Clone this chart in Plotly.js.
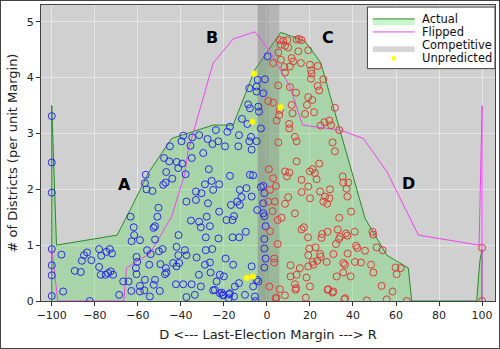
<!DOCTYPE html>
<html><head><meta charset="utf-8">
<script src="https://cdn.plot.ly/plotly-3.0.1.min.js"></script>
<style>
html,body{margin:0;padding:0;background:#fff;}
#wrap{position:relative;width:500px;height:349px;}
#frame{position:absolute;left:0;top:0;width:498px;height:347px;border:1px solid #444;pointer-events:none;}
</style>
</head><body>
<div id="wrap"><div id="chart" style="width:500px;height:349px;"></div><div id="frame"></div></div>
<script>
// Actual distribution outline
const actualX = [-100,-100,-97.8,-69.6,-62,-55,-44.3,-25,-15.7,-5.6,6.4,17.7,25,45.6,55.7,65.7,67.3,97.5,98.5,99,100,100];
const actualY = [0,3.5,1.0,1.18,1.75,2.3,2.91,3.15,3.15,4.14,4.81,4.65,4.27,1.48,0.82,0.59,0,0,0.5,0.73,0.93,0];
// Flipped distribution
const flippedX = [-100,-97.2,-66.5,-65.3,-54.4,-44.3,-38.1,-36.6,-35,-25,-15.7,-5.6,1.4,10.7,16.6,34,44.8,55.7,70.4,98.6,100,100];
const flippedY = [0.95,0,0,0.59,0.85,1.51,2.29,2.7,2.91,4.26,4.69,4.82,4.47,3.84,3.15,3.06,2.91,2.32,1.18,1.0,3.5,0];
// Competitive band
const competitive = [-4.3, 5.7];
const competitiveInner = [-4.3, 0.8];
// Districts (D side, blue)
const demX = [-100,-100,-100,-100,-100,-100,-100,-95.5,-89.3,-94.7,
-86.5,-86,-85,-83.6,-81.6,-78,-78,-77,-77.2,-75,-73.8,-72.6,-73,-72,-71.5,-74.6,-68.7,-66.8,-64.3,-63.4,-61.9,-61.7,-62.9,-59,-60.6,-60.3,-60.9,-60.6,-59,-56.7,-54.4,-55.7,-54,-54.7,-56.7,-56,-53.2,-56.3,-50.4,-50.9,-52,-52.7,-52,-50.2,-48.5,-49.5,-47,-46.7,-47.4,-52,-52.6,-47.8,-45.4,-41.9,-41.2,-39.4,-46.8,-44,-47.1,-48.2,-42,-41.1,-41.2,-40.8,-43.6,-42,-42.3,-38.9,-37.4,-33.5,-35,-30.7,-38.1,-37.4,-32.7,-35.3,-37.4,-37.8,-34.9,-33,-33,-29.6,-27,-28.8,-30.4,-25.7,-22.2,-25,-27.4,-31.5,-28,-30.7,-26.5,-28.4,-28.4,-25.4,-22.5,-26.5,-26.2,-31.6,-28.8,-21.9,-20,-23.4,-24.2,-21.9,-20.6,-17.5,-19.2,-15.7,-22.2,-18.8,-16,-15.3,-16,-12.9,-9.8,-13.8,-12.6,-16.7,-17.2,-12.6,-11.8,-9.5,-13,-14.9,-10.2,-15.3,
-39.7,-35.5,-45.1,-25.3,-22.6,-19.5,-13.3,-8.2,-38.9,-34.7,-31.5,-27.6,-23.7,-18.4,-17.2,-13,-11.6,-9.1,-8.7,-8.2,
0.3,-4.3,-0.9,-4.8,-4.8,-1.7,-7.9,-4,-3.7,-7.4,-4.8,-2.8,
-7.1,-7.9,-6.4,-1.7,-2.8,-1.2,-7.1,-1.7,-4.5,-1.7,-1.2,-0.6,-1.2,-1.2,-0.6,-1.2,-4.8,-4,-6.4,-5.6,-7.1,
-82.3,-63,-49.8,-25,-21,-20.2,-17.7,-17.2,-5.4,-59,-57];
const demY = [3.31,2.48,1.94,0.93,0.64,0.46,0.09,0.83,0.54,0.17,
0.52,0.72,0.82,0.87,0.73,0.93,0.61,0.81,0.47,0.47,0.5,0.53,0.93,0.85,0.47,0.88,0.11,0.35,0.35,1.51,1.32,1.18,1.07,1.09,0.79,0.70,0.59,0.48,0.27,0.38,0.08,0.91,0.84,0.65,2.11,2.0,1.97,2.26,1.67,1.51,1.34,1.31,1.1,0.89,0.93,0.66,0.59,0.51,0.48,0.38,0.29,2.56,2.5,2.49,2.38,2.46,2.31,2.19,2.12,2.08,0.97,1.18,0.82,0.68,0.68,0.62,0.3,0.3,0.07,0.11,0.3,0.26,0.91,0.82,0.78,1.44,1.78,2.27,2.56,1.96,1.81,2.65,2.36,2.09,1.93,2.15,2.09,1.99,1.75,1.42,1.51,1.32,1.34,1.14,0.91,0.93,1.12,0.69,0.51,0.47,0.65,0.47,0.44,0.35,0.2,0.14,0.11,0.12,0.76,0.65,1.6,1.45,1.45,1.52,1.14,1.14,1.24,1.78,1.72,1.72,2.24,1.99,1.86,2.02,0.32,0.26,0.11,0.08,
2.86,2.78,2.77,2.81,2.86,2.77,2.77,2.86,2.96,2.93,2.97,2.9,3.06,3.03,3.12,2.97,3.26,3.17,3.52,3.81,
4.38,3.96,3.97,3.84,3.75,3.72,3.45,3.48,3.39,2.94,2.86,3.09,
2.71,2.26,2.25,2.06,2.04,1.93,1.87,1.75,1.63,1.57,1.52,1.34,1.11,0.94,0.76,0.6,0.38,0.35,0.26,0.08,0.62,
0,0.18,0.18,0.19,0.15,0.1,0.05,0.14,0,0.17,0.19];
// Districts (R side, red)
const repX = [6,7.6,9.5,13.8,14.9,16.1,6.4,8.4,9.9,19.2,14.6,11.5,12.2,5.3,6.5,2.9,8.1,10.7,15.8,20,23.6,20.5,20.8,8.4,20.5,26.2,5.3,10.7,13.5,23.6,24.3,19.2,21.1,0.6,2.9,11.5,18.6,17.7,21.9,31.6,6,11.9,5.7,4.5,10.3,10.4,25,26.7,29,29.8,33.6,13,13.8,5.3,30.5,
31.6,0.9,2.9,4.2,1.4,0.6,3.7,2.6,5,6.8,1.4,5,3.4,3.4,1.1,6,4.5,8.4,10.4,9.3,13.8,20,21.2,22.3,24.3,16.1,19.2,16.1,23.1,24.7,8.4,9.9,27,29,29.3,35.2,35.5,37.8,37.4,37,20,26.2,28,13,39.1,33.6,16.1,17.2,19.1,25.4,25.7,28.2,32.9,34,36.7,40.8,33.5,32.1,37.4,41.4,42,45.6,51,53.8,49.1,49.4,19.7,22.6,19.2,24.7,25,27.8,30.9,37.5,21.2,21.6,11,15.3,19.2,23.4,35.5,36.3,40.9,43.7,48.4,49.5,35.5,38.9,32.4,59.8,62.2,60.3,11,13.8,18.4,13,13.5,20,30.9,53.3,58.4,18.1,28.5,36.3,
4,8.4,13.3,28.2,30.5,36,46.4,55.7,65,100,100];
const repY = [4.67,4.66,4.67,4.68,4.69,4.67,4.59,4.57,4.54,4.49,4.47,4.35,4.29,4.45,4.32,4.26,4.19,4.2,4.26,4.23,4.21,4.13,4.07,4.09,3.98,3.97,3.86,3.83,3.73,3.85,3.77,3.65,3.6,3.58,3.55,3.51,3.51,3.35,3.38,3.46,3.42,3.36,3.33,3.23,3.17,3.09,3.14,3.2,3.23,3.15,3.06,2.94,2.86,2.84,2.84,
2.68,2.36,2.2,2.06,1.99,1.78,1.78,1.61,1.45,1.49,1.25,1.02,0.76,0.69,0.26,0.21,0.06,2.32,2.3,2.23,2.5,2.32,2.36,2.29,2.46,2.17,2.05,1.95,2.18,1.96,1.74,1.86,1.87,1.84,2.0,2.23,2.12,2.12,1.87,2.01,1.84,1.78,1.74,1.57,1.6,1.49,1.28,1.32,1.14,1.13,1.2,1.24,1.28,1.15,1.21,1.24,1.11,1.02,1.17,0.99,0.95,0.9,0.96,0.91,1.24,1.19,0.94,0.96,0.82,0.84,0.79,0.7,0.84,0.85,0.7,0.65,0.64,0.59,0.62,0.72,0.68,0.65,0.7,0.69,0.65,0.51,0.51,0.44,0.44,0.6,0.59,0.48,0.44,0.47,0.42,0.3,0.23,0.26,0.17,0.27,0.17,0.06,0.21,0.05,
0.05,0.1,0.2,0.2,0.15,0.03,0.01,0.03,0,0,0.95];
// Unpredicted districts
const unpX = [-6,-6.7,6.4,-9.3,-6.5];
const unpY = [4.07,3.21,3.47,0.41,0.44];
// Region labels
const labelText = ['A','B','C','D'];
const labelX = [-66,-25.6,28.4,65.6];
const labelY = [2.08,4.71,4.71,2.1];
// Legend labels
const legendNames = ['Actual','Flipped','Competitive','Unpredicted'];

const FONT = 'DejaVu Sans, sans-serif';
const GREEN_FILL = 'rgba(80,220,80,0.3)';
const GRAY_FILL = 'rgba(120,120,120,0.30)';
const traces = [
  {x: actualX, y: actualY, type:'scatter', mode:'lines', fill:'toself', name:legendNames[0],
   line:{color:'#2a8a2a', width:1}, fillcolor:GREEN_FILL},
  {x: [competitive[0],competitive[1],competitive[1],competitive[0],competitive[0]], y:[-1,-1,10,10,-1],
   type:'scatter', mode:'lines', fill:'toself', name:legendNames[2], line:{width:0, color:'rgba(0,0,0,0)'},
   fillcolor:GRAY_FILL},
  {x: [competitiveInner[0],competitiveInner[1],competitiveInner[1],competitiveInner[0],competitiveInner[0]], y:[-1,-1,10,10,-1],
   type:'scatter', mode:'lines', fill:'toself', line:{width:0, color:'rgba(0,0,0,0)'},
   fillcolor:'rgba(120,120,120,0.16)'},
  {x: flippedX, y: flippedY, type:'scatter', mode:'lines', name:legendNames[1],
   line:{color:'#ee44ee', width:1}},
  {x: demX, y: demY, type:'scatter', mode:'markers',
   marker:{symbol:'circle-open', size:7, color:'#2a2aee', line:{width:1}}},
  {x: repX, y: repY, type:'scatter', mode:'markers',
   marker:{symbol:'circle-open', size:7, color:'#e03a3a', line:{width:1}}},
  {x: unpX, y: unpY, type:'scatter', mode:'markers', name:legendNames[3],
   marker:{symbol:'circle', size:6, color:'#ffff00', line:{width:0}}}
];
const annotations = labelText.map((t,i)=>({x:labelX[i], y:labelY[i], text:'<b>'+t+'</b>', showarrow:false,
  font:{family:FONT, size:16, color:'#000'}}));
// custom legend (paper coordinates)
const legTextY = [0.954, 0.909, 0.865, 0.821];
legendNames.forEach((n,i)=>annotations.push({xref:'paper', yref:'paper', x:0.835, y:legTextY[i], xanchor:'left', yanchor:'middle',
  text:n, showarrow:false, font:{family:FONT, size:11.5, color:'#111'}}));
const shapes = [
  {type:'rect', xref:'paper', yref:'paper', x0:0.719, x1:1.0, y0:0.785, y1:0.993, fillcolor:'#fff', line:{color:'#444', width:1}, layer:'above'},
  {type:'rect', xref:'paper', yref:'paper', x0:0.731, x1:0.823, y0:0.932, y1:0.953, fillcolor:GREEN_FILL, line:{width:0}, layer:'above'},
  {type:'line', xref:'paper', yref:'paper', x0:0.731, x1:0.823, y0:0.953, y1:0.953, line:{color:'#2a8a2a', width:1}, layer:'above'},
  {type:'line', xref:'paper', yref:'paper', x0:0.731, x1:0.823, y0:0.909, y1:0.909, line:{color:'#ee44ee', width:1}, layer:'above'},
  {type:'rect', xref:'paper', yref:'paper', x0:0.731, x1:0.823, y0:0.841, y1:0.861, fillcolor:GRAY_FILL, line:{width:0}, layer:'above'},
  {type:'circle', xref:'paper', yref:'paper', x0:0.7725, x1:0.7825, y0:0.8115, y1:0.8285, fillcolor:'#ffff00', line:{width:0}, layer:'above'}
];
const layout = {
  width:500, height:349,
  margin:{l:41, r:5, t:5, b:48},
  paper_bgcolor:'#fff', plot_bgcolor:'#d0d0d0',
  font:{family:FONT, size:11, color:'#222'},
  showlegend:false,
  xaxis:{range:[-105,106], tickvals:[-100,-80,-60,-40,-20,0,20,40,60,80,100],
    ticktext:['\u2212100','\u221280','\u221260','\u221240','\u221220','0','20','40','60','80','100'],
    ticks:'outside', ticklen:4, tickcolor:'#333', showline:true, mirror:true, linecolor:'#444', linewidth:1,
    gridcolor:'#e6e6e6', gridwidth:1, zeroline:false,
    title:{text:'D &lt;--- Last-Election Margin ---&gt; R', font:{size:13, family:FONT, color:'#222'}, standoff:8}},
  yaxis:{range:[0,5.3], tickvals:[0,1,2,3,4,5], ticks:'outside', ticklen:4, tickcolor:'#333',
    showline:true, mirror:true, linecolor:'#444', linewidth:1, gridcolor:'#e6e6e6', zeroline:false,
    title:{text:'# of Districts (per unit Margin)', font:{size:13, family:FONT, color:'#222'}, standoff:6}},
  annotations: annotations,
  shapes: shapes
};
Plotly.newPlot('chart', traces, layout, {staticPlot:true});
</script>
</body></html>
